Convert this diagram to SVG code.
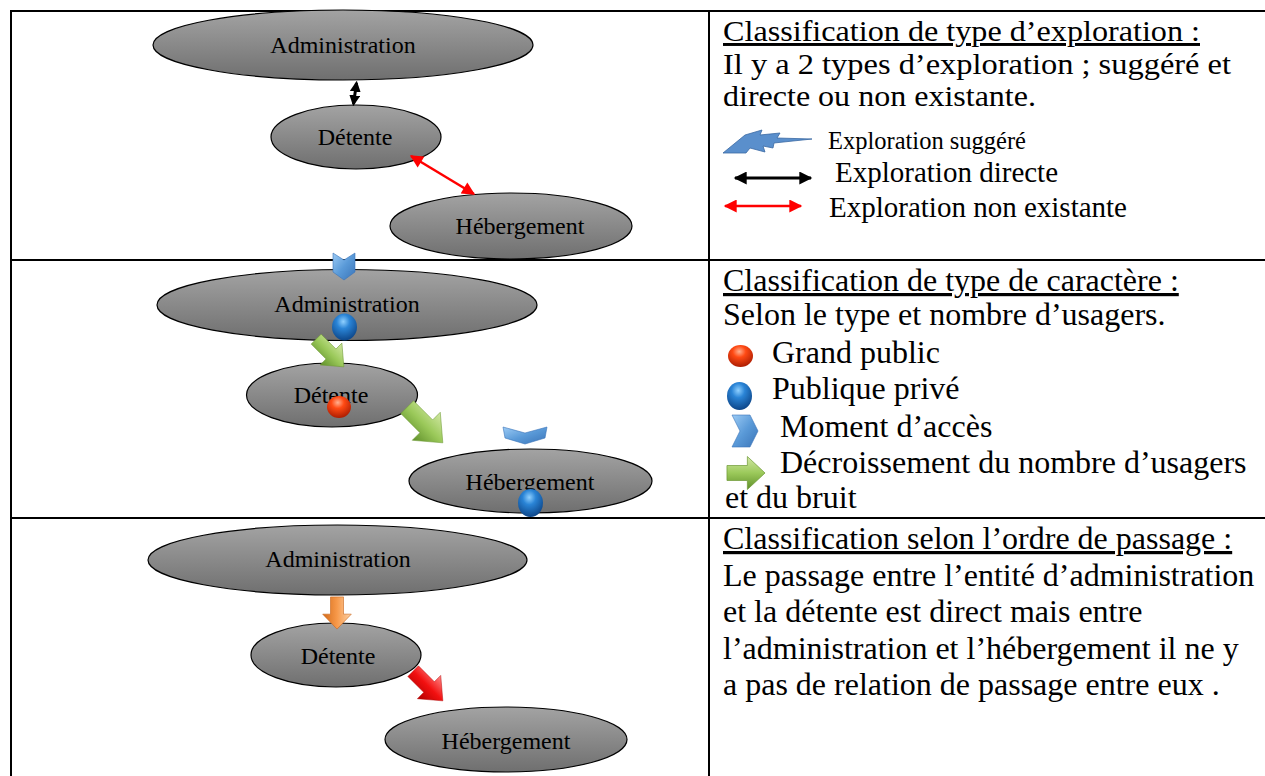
<svg xmlns="http://www.w3.org/2000/svg" width="1265" height="776" viewBox="0 0 1265 776">
  <style>
    .grid { stroke: #000; stroke-width: 2; fill: none; }
    .node { fill: url(#gNode); stroke: #000; stroke-width: 1.2; }
    .nl { font-family: "Liberation Serif", "Times New Roman", serif; font-size: 24px; fill: #000; text-anchor: middle; }
    .tx { font-family: "Liberation Serif", "Times New Roman", serif; font-size: 32px; fill: #000; }
    .tt { font-size: 29.5px; }
    .hd { text-decoration: underline; }
    .blk { stroke: #000; stroke-width: 3; fill: none; }
    .red { stroke: #f00; stroke-width: 2.5; fill: none; }
  </style>
  <defs>
    <linearGradient id="gNode" x1="0" y1="0" x2="0" y2="1">
      <stop offset="0" stop-color="#a3a3a3"/>
      <stop offset="1" stop-color="#6f6f6f"/>
    </linearGradient>
    <radialGradient id="gBlue" cx="0.45" cy="0.3" r="0.75">
      <stop offset="0" stop-color="#8fd0ff"/>
      <stop offset="0.35" stop-color="#2a84d6"/>
      <stop offset="1" stop-color="#0a3f80"/>
    </radialGradient>
    <radialGradient id="gRed" cx="0.45" cy="0.3" r="0.75">
      <stop offset="0" stop-color="#ffb090"/>
      <stop offset="0.35" stop-color="#ff4a14"/>
      <stop offset="1" stop-color="#a31800"/>
    </radialGradient>
    <linearGradient id="gGreen" x1="0" y1="0" x2="0" y2="1">
      <stop offset="0" stop-color="#d2e8a4"/>
      <stop offset="0.5" stop-color="#9bc95a"/>
      <stop offset="1" stop-color="#5f8f2a"/>
    </linearGradient>
    <linearGradient id="gOrange" x1="0" y1="0" x2="0" y2="1">
      <stop offset="0" stop-color="#fcd3a8"/>
      <stop offset="0.5" stop-color="#f7994a"/>
      <stop offset="1" stop-color="#d36a18"/>
    </linearGradient>
    <linearGradient id="gRedArrow" x1="0" y1="0" x2="0" y2="1">
      <stop offset="0" stop-color="#ff8a8a"/>
      <stop offset="0.5" stop-color="#f21010"/>
      <stop offset="1" stop-color="#b00000"/>
    </linearGradient>
    <linearGradient id="gChev" x1="0" y1="0" x2="1" y2="1">
      <stop offset="0" stop-color="#9ccbf5"/>
      <stop offset="0.5" stop-color="#5a9ad8"/>
      <stop offset="1" stop-color="#3a74b8"/>
    </linearGradient>
    <!-- block arrow pointing along +x, centred on the origin -->
    <path id="blockArrow" d="M-14,-5 H1 V-11 L14,0 L1,11 V5 H-14 Z"/>
    <marker id="hBlack" viewBox="0 0 10 10" refX="8" refY="5" markerWidth="11" markerHeight="11" markerUnits="userSpaceOnUse" orient="auto-start-reverse">
      <path d="M0,0 L10,5 L0,10 Z" fill="#000"/>
    </marker>
    <marker id="hBlackL" viewBox="0 0 10 10" refX="9" refY="5" markerWidth="15" markerHeight="13" markerUnits="userSpaceOnUse" orient="auto-start-reverse">
      <path d="M0,0 L10,5 L0,10 Z" fill="#000"/>
    </marker>
    <marker id="hRed" viewBox="0 0 10 10" refX="9" refY="5" markerWidth="15" markerHeight="13" markerUnits="userSpaceOnUse" orient="auto-start-reverse">
      <path d="M0,0 L10,5 L0,10 Z" fill="#f00"/>
    </marker>
  </defs>

  <rect width="1265" height="776" fill="#fff"/>

  <!-- table grid -->
  <g id="grid" class="grid">
    <line x1="11" y1="11" x2="1265" y2="11"/>
    <line x1="11" y1="10" x2="11" y2="776"/>
    <line x1="709" y1="11" x2="709" y2="776"/>
    <line x1="11" y1="260" x2="1265" y2="260"/>
    <line x1="11" y1="518" x2="1265" y2="518"/>
  </g>

  <!-- row 1 : exploration -->
  <g id="r1-administration"><ellipse class="node" cx="343" cy="45" rx="190" ry="35"/><text class="nl" x="343" y="53">Administration</text></g>
  <g id="r1-detente"><ellipse class="node" cx="356" cy="137" rx="85" ry="32"/><text class="nl" x="355" y="145">Détente</text></g>
  <g id="r1-hebergement"><ellipse class="node" cx="511" cy="226" rx="121" ry="33"/><text class="nl" x="520" y="234">Hébergement</text></g>

  <!-- row 2 : caractère -->
  <g id="r2-administration"><ellipse class="node" cx="347" cy="305" rx="190" ry="35.5"/><text class="nl" x="347" y="312">Administration</text></g>
  <g id="r2-detente"><ellipse class="node" cx="332" cy="395" rx="85.5" ry="32"/><text class="nl" x="331" y="403">Détente</text></g>
  <g id="r2-hebergement"><ellipse class="node" cx="530.5" cy="481" rx="121.5" ry="32"/><text class="nl" x="530" y="490">Hébergement</text></g>

  <!-- row 3 : ordre de passage -->
  <g id="r3-administration"><ellipse class="node" cx="337.5" cy="560" rx="189.5" ry="35"/><text class="nl" x="338" y="567">Administration</text></g>
  <g id="r3-detente"><ellipse class="node" cx="336" cy="655" rx="85" ry="32"/><text class="nl" x="338" y="664">Détente</text></g>
  <g id="r3-hebergement"><ellipse class="node" cx="506" cy="739.5" rx="121" ry="32.5"/><text class="nl" x="506" y="749">Hébergement</text></g>

  <!-- connectors and markers on the nodes -->
  <g id="connectors">
    <line class="blk" x1="356.5" y1="83" x2="353.5" y2="104" marker-start="url(#hBlack)" marker-end="url(#hBlack)"/>
    <line class="red" x1="411" y1="156" x2="474" y2="194" marker-start="url(#hRed)" marker-end="url(#hRed)"/>

    <polygon points="333,253 344,260 355,253 355,272 344,280 333,272" fill="url(#gChev)" stroke="#3a74b8" stroke-width="0.6"/>
    <ellipse cx="344.5" cy="327" rx="12.5" ry="13.5" fill="url(#gBlue)"/>
    <use href="#blockArrow" transform="translate(330,353) rotate(45) scale(1.4)" fill="url(#gGreen)" stroke="#6f9a36" stroke-width="0.4"/>
    <ellipse cx="339" cy="407" rx="12" ry="11" fill="url(#gRed)"/>
    <use href="#blockArrow" transform="translate(425,425) rotate(45) scale(1.8)" fill="url(#gGreen)" stroke="#6f9a36" stroke-width="0.3"/>
    <polygon points="503,427 525,433 547,427 545,438 525,444 505,438" fill="url(#gChev)" stroke="#3a74b8" stroke-width="0.6"/>
    <ellipse cx="530.5" cy="503" rx="12.5" ry="14" fill="url(#gBlue)"/>

    <use href="#blockArrow" transform="translate(337,613) rotate(90) scale(1.15,1.3)" fill="url(#gOrange)" stroke="#c8661c" stroke-width="0.5"/>
    <use href="#blockArrow" transform="translate(428,686) rotate(45) scale(1.5)" fill="url(#gRedArrow)" stroke="#b00000" stroke-width="0.3"/>
  </g>

  <!-- legend column -->
  <g id="legend-1">
    <text class="tx tt hd" x="723" y="41" textLength="477" lengthAdjust="spacingAndGlyphs">Classification de type d’exploration :</text>
    <text class="tx tt" x="723" y="74" textLength="508" lengthAdjust="spacingAndGlyphs">Il y a 2 types d’exploration ; suggéré et</text>
    <text class="tx tt" x="723" y="106" textLength="313" lengthAdjust="spacingAndGlyphs">directe ou non existante.</text>
    <polygon points="723,153 745,135 762,130 760,135 780,133 777,138 812,139 774,143 773,148 763,146 765,152 750,148 746,153" fill="#5a8fcc" stroke="#3b6aa3" stroke-width="0.8"/>
    <text class="tx" x="828" y="149" style="font-size:24.5px">Exploration suggéré</text>
    <line class="blk" x1="735" y1="178" x2="811" y2="178" marker-start="url(#hBlackL)" marker-end="url(#hBlackL)"/>
    <text class="tx" x="835" y="182" style="font-size:29px">Exploration directe</text>
    <line class="red" x1="725" y1="206" x2="801" y2="206" marker-start="url(#hRed)" marker-end="url(#hRed)"/>
    <text class="tx" x="829" y="217" style="font-size:29px">Exploration non existante</text>
  </g>

  <g id="legend-2">
    <text class="tx hd" x="723" y="291">Classification de type de caractère :</text>
    <text class="tx" x="723" y="325">Selon le type et nombre d’usagers.</text>
    <ellipse cx="740.5" cy="356" rx="12.5" ry="11" fill="url(#gRed)"/>
    <text class="tx" x="772" y="363">Grand public</text>
    <ellipse cx="739.5" cy="396" rx="12.5" ry="14" fill="url(#gBlue)"/>
    <text class="tx" x="772" y="399">Publique privé</text>
    <polygon points="732,415 750,415 758,431 750,447 732,447 740,431" fill="url(#gChev)" stroke="#3a74b8" stroke-width="0.6"/>
    <text class="tx" x="780" y="437">Moment d’accès</text>
    <use href="#blockArrow" transform="translate(746,473) scale(1.36,1.5)" fill="url(#gGreen)" stroke="#6f9a36" stroke-width="0.5"/>
    <text class="tx" x="780" y="473">Décroissement du nombre d’usagers</text>
    <text class="tx" x="725" y="508">et du bruit</text>
  </g>

  <g id="legend-3">
    <text class="tx hd" x="723" y="549">Classification selon l’ordre de passage :</text>
    <text class="tx" x="723" y="586">Le passage entre l’entité d’administration</text>
    <text class="tx" x="723" y="622">et la détente est direct mais entre</text>
    <text class="tx" x="723" y="659">l’administration et l’hébergement il ne y</text>
    <text class="tx" x="723" y="695">a pas de relation de passage entre eux .</text>
  </g>
</svg>
